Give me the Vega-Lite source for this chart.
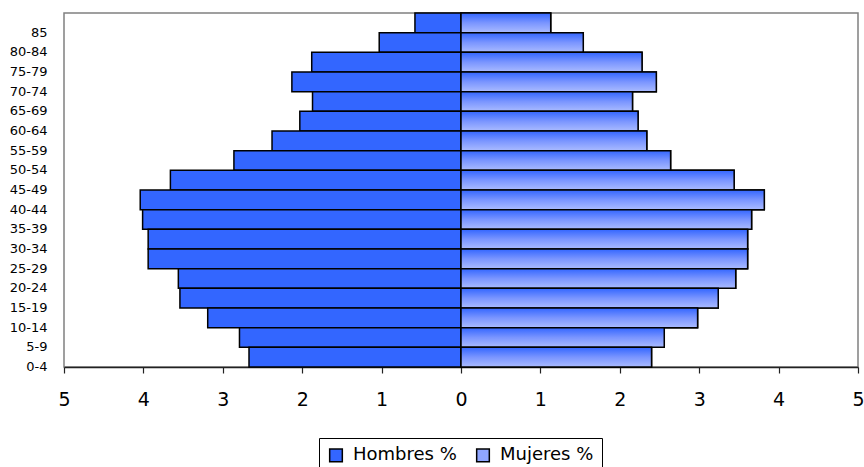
{
  "$schema": "https://vega.github.io/schema/vega-lite/v6.json",
  "autosize": {"type": "none"},
  "width": 794,
  "height": 354,
  "padding": {"left": 64, "top": 13, "right": 6, "bottom": 100},
  "background": "#ffffff",
  "config": {
    "font": "DejaVu Sans",
    "view": {"stroke": "#808080", "strokeWidth": 1.5}
  },
  "data": {
    "values": [
      {"edad": "85", "sexo": "Hombres %", "valor": -0.58},
      {"edad": "80-84", "sexo": "Hombres %", "valor": -1.03},
      {"edad": "75-79", "sexo": "Hombres %", "valor": -1.88},
      {"edad": "70-74", "sexo": "Hombres %", "valor": -2.13},
      {"edad": "65-69", "sexo": "Hombres %", "valor": -1.87},
      {"edad": "60-64", "sexo": "Hombres %", "valor": -2.03},
      {"edad": "55-59", "sexo": "Hombres %", "valor": -2.38},
      {"edad": "50-54", "sexo": "Hombres %", "valor": -2.86},
      {"edad": "45-49", "sexo": "Hombres %", "valor": -3.66},
      {"edad": "40-44", "sexo": "Hombres %", "valor": -4.04},
      {"edad": "35-39", "sexo": "Hombres %", "valor": -4.01},
      {"edad": "30-34", "sexo": "Hombres %", "valor": -3.94},
      {"edad": "25-29", "sexo": "Hombres %", "valor": -3.94},
      {"edad": "20-24", "sexo": "Hombres %", "valor": -3.56},
      {"edad": "15-19", "sexo": "Hombres %", "valor": -3.54},
      {"edad": "10-14", "sexo": "Hombres %", "valor": -3.19},
      {"edad": "5-9", "sexo": "Hombres %", "valor": -2.79},
      {"edad": "0-4", "sexo": "Hombres %", "valor": -2.67},
      {"edad": "85", "sexo": "Mujeres %", "valor": 1.13},
      {"edad": "80-84", "sexo": "Mujeres %", "valor": 1.54},
      {"edad": "75-79", "sexo": "Mujeres %", "valor": 2.28},
      {"edad": "70-74", "sexo": "Mujeres %", "valor": 2.46},
      {"edad": "65-69", "sexo": "Mujeres %", "valor": 2.16},
      {"edad": "60-64", "sexo": "Mujeres %", "valor": 2.23},
      {"edad": "55-59", "sexo": "Mujeres %", "valor": 2.34},
      {"edad": "50-54", "sexo": "Mujeres %", "valor": 2.64},
      {"edad": "45-49", "sexo": "Mujeres %", "valor": 3.44},
      {"edad": "40-44", "sexo": "Mujeres %", "valor": 3.82},
      {"edad": "35-39", "sexo": "Mujeres %", "valor": 3.66},
      {"edad": "30-34", "sexo": "Mujeres %", "valor": 3.61},
      {"edad": "25-29", "sexo": "Mujeres %", "valor": 3.61},
      {"edad": "20-24", "sexo": "Mujeres %", "valor": 3.46},
      {"edad": "15-19", "sexo": "Mujeres %", "valor": 3.24},
      {"edad": "10-14", "sexo": "Mujeres %", "valor": 2.98},
      {"edad": "5-9", "sexo": "Mujeres %", "valor": 2.56},
      {"edad": "0-4", "sexo": "Mujeres %", "valor": 2.40}
    ]
  },
  "encoding": {
    "y": {
      "field": "edad",
      "type": "nominal",
      "sort": ["85", "80-84", "75-79", "70-74", "65-69", "60-64", "55-59", "50-54", "45-49", "40-44", "35-39", "30-34", "25-29", "20-24", "15-19", "10-14", "5-9", "0-4"],
      "scale": {"paddingInner": 0, "paddingOuter": 0},
      "axis": {
        "title": null,
        "domain": false,
        "ticks": false,
        "labelFontSize": 13,
        "labelColor": "#000000",
        "labelPadding": 17,
        "labelOffset": 9.8
      }
    },
    "x": {
      "field": "valor",
      "type": "quantitative",
      "scale": {"domain": [-5, 5], "nice": false},
      "axis": {
        "title": null,
        "grid": false,
        "values": [-5, -4, -3, -2, -1, 0, 1, 2, 3, 4, 5],
        "labelExpr": "abs(datum.value)",
        "labelFlush": false,
        "labelFontSize": 19,
        "labelColor": "#000000",
        "labelPadding": 17,
        "domainColor": "#222222",
        "domainWidth": 1.5,
        "tickColor": "#222222",
        "tickWidth": 1.2,
        "tickSize": 6
      }
    }
  },
  "layer": [
    {
      "mark": {"type": "bar", "stroke": "#000000", "strokeWidth": 1.5},
      "encoding": {
        "color": {
          "field": "sexo",
          "type": "nominal",
          "scale": {"domain": ["Hombres %", "Mujeres %"], "range": ["#3366FF", "#8FA5FF"]},
          "legend": {
            "title": null,
            "orient": "none",
            "legendX": 255,
            "legendY": 425,
            "direction": "horizontal",
            "strokeColor": "#000000",
            "padding": 8,
            "symbolType": "square",
            "symbolSize": 160,
            "symbolStrokeColor": "#000000",
            "symbolStrokeWidth": 1.5,
            "symbolOpacity": 1,
            "labelFontSize": 18,
            "labelColor": "#000000",
            "labelOffset": 8,
            "columnPadding": 16
          }
        }
      }
    },
    {
      "transform": [{"filter": "datum.sexo === 'Mujeres %'"}],
      "mark": {
        "type": "bar",
        "stroke": "#000000",
        "strokeWidth": 1.5,
        "fill": {
          "gradient": "linear",
          "x1": 0, "y1": 0, "x2": 0, "y2": 1,
          "stops": [
            {"offset": 0, "color": "#3366FF"},
            {"offset": 0.5, "color": "#7A95FF"},
            {"offset": 1, "color": "#AABBFF"}
          ]
        }
      }
    }
  ]
}
